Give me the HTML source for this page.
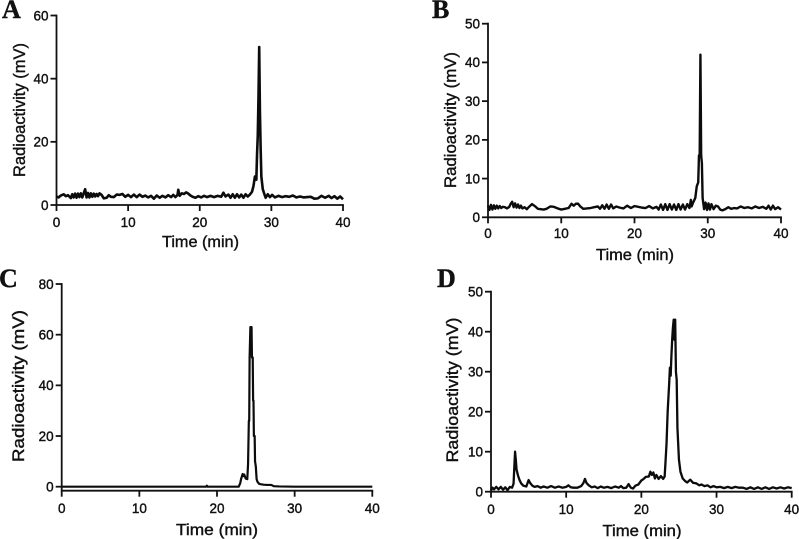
<!DOCTYPE html>
<html lang="en">
<head>
<meta charset="utf-8">
<title>Radio-HPLC chromatograms</title>
<style>
html,body{margin:0;padding:0;background:#fff;width:799px;height:539px;overflow:hidden}
svg{display:block}
text{font-family:"Liberation Sans",Arial,sans-serif;fill:#111;stroke:#111;stroke-width:.4px}
.letter{font-family:"Liberation Serif","Times New Roman",serif;font-weight:bold;font-size:26px;stroke-width:.4px}
</style>
</head>
<body>
<svg id="chart" xmlns="http://www.w3.org/2000/svg" width="799" height="539" viewBox="0 0 799 539"></svg>
<script>
const xTickLabels = [0, 10, 20, 30, 40];
const yTickLabelsA = [0, 20, 40, 60];
const yTickLabelsB = [0, 10, 20, 30, 40, 50];
const yTickLabelsC = [0, 20, 40, 60, 80];
const yTickLabelsD = [0, 10, 20, 30, 40, 50];

const timeA = [0,0.3,0.6,1,1.3,1.6,2,2.2,2.4,2.6,2.8,3,3.2,3.4,3.6,3.8,4,4.2,4.4,4.6,4.8,5,5.2,5.4,5.6,5.8,6,6.3,6.6,7,7.3,7.6,8,8.4,8.8,9.2,9.6,10,10.4,10.8,11.2,11.6,12,12.4,12.8,13.2,13.6,14,14.4,14.8,15.2,15.6,16,16.3,16.6,16.9,17,17.2,17.5,17.8,18.1,18.4,18.7,19,19.4,19.8,20.2,20.6,21,21.5,22,22.5,23,23.3,23.6,24,24.3,24.6,24.9,25.2,25.5,25.8,26.1,26.4,26.7,27,27.3,27.5,27.7,27.9,28,28.1,28.2,28.3,28.4,28.5,28.6,28.8,29,29.2,29.5,29.8,30.1,30.5,31,31.5,32,32.5,33,33.5,34,34.5,35,35.5,36,36.5,37,37.5,38,38.4,38.8,39.2,39.6,40];
const signalA = [2.7,2.4,3,3.4,2.8,3.1,2.2,3.4,2.4,3.6,2.3,3.6,2.5,3.7,2.4,3.7,5,2.4,3.8,2.4,3.7,2.6,3.6,2.7,3.5,2.8,3.7,3.2,2.1,2.3,3.1,2.6,2.5,3.3,3.2,3.5,2.6,3.2,2.5,3.3,2.5,3.3,2.6,3,2.4,2.9,2,3,2.3,2.9,2.4,3.1,2.5,3.2,2.5,3.2,4.8,2.9,3.7,3.5,4,3.6,3,2.6,2.3,2.8,2.4,2.9,2.5,2.9,2.5,2.9,2.6,3.9,2.7,3.3,2.3,3.4,2.3,3.4,2.4,3.3,2.3,3.4,2.7,3.3,4.2,6,9,8,16,22,34,50,30,18,9,5,3.6,2.3,3.4,2.5,3.2,2.4,2.9,2.5,2.8,2.6,3,2.4,2.7,2.4,2.5,2.6,2,2.1,2.9,2.3,2.9,2.2,2.8,2,2.7,1.8];

const timeB = [0,0.2,0.4,0.6,0.8,1,1.2,1.4,1.6,1.8,2,2.3,2.6,2.9,3.1,3.3,3.5,3.7,3.9,4.1,4.3,4.5,4.7,5,5.3,5.6,6,6.4,6.8,7.2,7.6,8,8.5,9,9.5,10,10.5,11,11.4,11.7,12,12.3,12.6,13,13.5,14,14.5,15,15.3,15.6,15.9,16.2,16.5,16.8,17.1,17.5,18,18.5,19,19.5,20,20.5,21,21.5,22,22.5,23,23.3,23.6,23.9,24.2,24.5,24.8,25.1,25.4,25.7,26,26.3,26.6,26.9,27.2,27.5,27.7,27.8,28,28.3,28.5,28.7,28.8,28.9,29,29.1,29.2,29.3,29.5,29.7,29.9,30.1,30.3,30.5,30.8,31.1,31.4,31.7,32,32.4,32.8,33.2,33.6,34,34.5,35,35.5,36,36.5,37,37.5,38,38.3,38.6,38.9,39.2,39.6,40];
const signalB = [3,1.9,3.2,2,3.1,2.2,3,2.3,2.9,2.4,2.7,2.6,2.3,2.7,3.5,4,2.6,3.6,2.5,3.3,2.4,3,2.3,2.6,2.1,2.7,3.4,2.9,2.2,2.1,2,2.2,2.8,2.7,2.3,2,2.2,2.4,3.5,3,3.5,3.5,2.8,2.2,2.3,2.4,2.6,2.8,2.2,3.1,2.2,3.3,2.2,3.3,2.3,2.8,2.5,2.3,3,2.4,2.9,2.7,2.5,2.4,2.9,2.3,2.7,2,3.3,1.9,3.4,1.9,3.4,2,3.3,1.9,3.4,2,3.3,2,3.4,2.4,4.5,2.8,3.8,5,8,9,16,16,42,16,14,5,2.1,3.8,1.9,3.6,2,3.4,2.1,3,2.8,2,1.8,2.1,2.6,2.2,2.4,2.3,2.8,2.4,2.6,2.3,2.8,2.4,2.7,2.2,3,2,3,2.1,2.6,2];

const timeC = [0,10,18.6,18.7,18.8,22.8,23,23.1,23.3,23.4,23.5,23.7,23.9,24,24.1,24.15,24.2,24.3,24.35,24.45,24.5,24.6,24.65,24.7,24.75,24.85,24.9,25,25.1,25.2,25.4,25.6,26,26.5,27,27.3,28,30,40];
const signalC = [0,0,0,0.4,0,0,1.5,3,5,4.2,4.8,3.2,3,9,26,26,51,63,63,63,51,51,34,34,20,20,10,8,3,2,1.2,1,0.8,0.7,0.7,0.2,0.1,0,0];

const timeD = [0,0.2,0.4,0.7,1,1.3,1.6,1.9,2.2,2.5,2.8,3,3.1,3.2,3.3,3.4,3.6,3.8,4,4.3,4.7,5,5.2,5.5,5.8,6.2,6.6,7,7.5,8,8.5,9,9.5,10,10.3,10.6,11,11.5,12,12.3,12.5,12.7,13,13.4,13.8,14.2,14.6,15,15.5,16,16.5,17,17.3,17.6,18,18.3,18.6,18.9,19.2,19.6,20,20.3,20.6,21,21.2,21.4,21.6,21.8,22,22.3,22.6,22.9,23.1,23.2,23.35,23.5,23.7,23.8,23.9,24,24.1,24.2,24.3,24.4,24.5,24.6,24.7,24.8,25,25.2,25.5,25.8,26.1,26.5,26.9,27.3,27.7,28,28.4,28.8,29.2,29.6,30,30.5,31,31.5,32,32.5,33,33.5,34,34.5,35,35.5,36,36.5,37,37.5,38,38.5,39,39.5,40];
const signalD = [0.3,1,0.6,1.2,0.6,1.2,0.5,1.1,0.4,1.2,1,2,6,10,8,5.5,4,2.9,2.1,1.5,1.3,2.9,2.2,1.5,1.2,1.4,1,1.3,1,1.4,1,1.3,1,1.2,1.6,1.1,1,1,1.4,2.2,3.2,2.2,1.6,1.1,1.3,0.9,1.3,1,1.2,0.9,1.3,1,1.4,0.9,1,1.9,1,0.8,1.5,1.8,2.8,3.2,3.7,3.8,5,4.2,4.8,3.3,4.2,3.2,3.9,3.2,3.8,7,12,20,27,31,29,34,38,41,43,38,43,30,28,16,8,5,3.3,2.7,2.3,3,2.2,2.1,1.6,1.8,1.4,1.6,1.1,1.4,1.1,1.2,0.9,1.2,0.9,1.2,1,1,0.7,1.1,0.7,1.1,0.7,1.1,0.7,1.1,0.8,1.1,0.8,1.1,0.9];

const panels = [
  {id:'a',letter:'A',lx:2,ly:18,time:timeA,signal:signalA,yTicks:yTickLabelsA,yMax:60,x0:56.5,x1:343,y0:205,yTop:15.5,axisY:205,w:2.6,tickY:227,titleY:247,titleX:200.5,titleLen:77,yLabelX:25,yLabelY:110,yLabelLen:134},
  {id:'b',letter:'B',lx:432,ly:18,time:timeB,signal:signalB,yTicks:yTickLabelsB,yMax:50,x0:488,x1:781,y0:217.3,yTop:23.7,axisY:217.3,w:2.4,tickY:238,titleY:260,titleX:635,titleLen:78,yLabelX:456,yLabelY:120,yLabelLen:136},
  {id:'c',letter:'C',lx:-1,ly:287,time:timeC,signal:signalC,yTicks:yTickLabelsC,yMax:80,x0:61.7,x1:372.3,y0:486.7,yTop:284,axisY:490.7,w:2.2,tickY:513,titleY:535,titleX:217,titleLen:82,yLabelX:24,yLabelY:386,yLabelLen:152},
  {id:'d',letter:'D',lx:437,ly:287,time:timeD,signal:signalD,yTicks:yTickLabelsD,yMax:50,x0:491,x1:791.7,y0:491.7,yTop:291.7,axisY:491.7,w:2.3,tickY:514,titleY:536,titleX:642,titleLen:79,yLabelX:458,yLabelY:390,yLabelLen:145}
];

const NS = 'http://www.w3.org/2000/svg';
const root = document.getElementById('chart');

function make(tag, parent, attrs, content) {
  const node = document.createElementNS(NS, tag);
  for (const key in attrs) node.setAttribute(key, attrs[key]);
  if (content !== undefined) node.textContent = content;
  parent.appendChild(node);
  return node;
}

function drawPanel(p) {
  const sx = t => p.x0 + (t / 40) * (p.x1 - p.x0);
  const sy = v => p.y0 - (v / p.yMax) * (p.y0 - p.yTop);

  let el = make('g', root, {});
  
  
  const g = el;

  el = make('text', g, {x: p.lx, y: p.ly, class: 'letter'}, p.letter);
  
  

  const axisStyle = {stroke: '#111', 'stroke-width': 1.8, fill: 'none'};

  el = make('line', g, Object.assign({x1: p.x0, x2: p.x0, y1: p.yTop - 0.9, y2: p.axisY + 0.9}, axisStyle));
  
  

  el = make('line', g, Object.assign({x1: p.x0, x2: p.x1 + 0.9, y1: p.axisY, y2: p.axisY}, axisStyle));
  
  

  xTickLabels.forEach(t => {
    el = make('line', g, Object.assign({x1: sx(t), x2: sx(t), y1: p.axisY, y2: p.axisY + 6}, axisStyle));
    
    

    el = make('text', g, {x: sx(t), y: p.tickY, 'text-anchor': 'middle', 'font-size': '13.5'}, String(t));
    
    
  });

  p.yTicks.forEach(v => {
    el = make('line', g, Object.assign({x1: p.x0 - 6, x2: p.x0, y1: sy(v), y2: sy(v)}, axisStyle));
    
    

    el = make('text', g, {x: p.x0 - 8, y: sy(v) + 4.8, 'text-anchor': 'end', 'font-size': '13.5'}, String(v));
    
    
  });

  el = make('text', g, {x: p.titleX, y: p.titleY, 'text-anchor': 'middle', 'font-size': '16', textLength: p.titleLen, lengthAdjust: 'spacingAndGlyphs'}, 'Time (min)');
  
  

  el = make('text', g, {x: 0, y: 0, 'text-anchor': 'middle', 'font-size': '16.5', textLength: p.yLabelLen, lengthAdjust: 'spacingAndGlyphs', transform: 'translate(' + p.yLabelX + ' ' + p.yLabelY + ') rotate(-90)'}, 'Radioactivity (mV)');
  
  

  const d = p.time.map((t, i) => (i ? 'L' : 'M') + sx(t).toFixed(2) + ' ' + sy(p.signal[i]).toFixed(2)).join(' ');
  el = make('path', g, {d: d, fill: 'none', stroke: '#0c0c0c', 'stroke-width': p.w, 'stroke-linejoin': 'round'});
  
  
}

panels.forEach(drawPanel);
</script>
</body>
</html>
